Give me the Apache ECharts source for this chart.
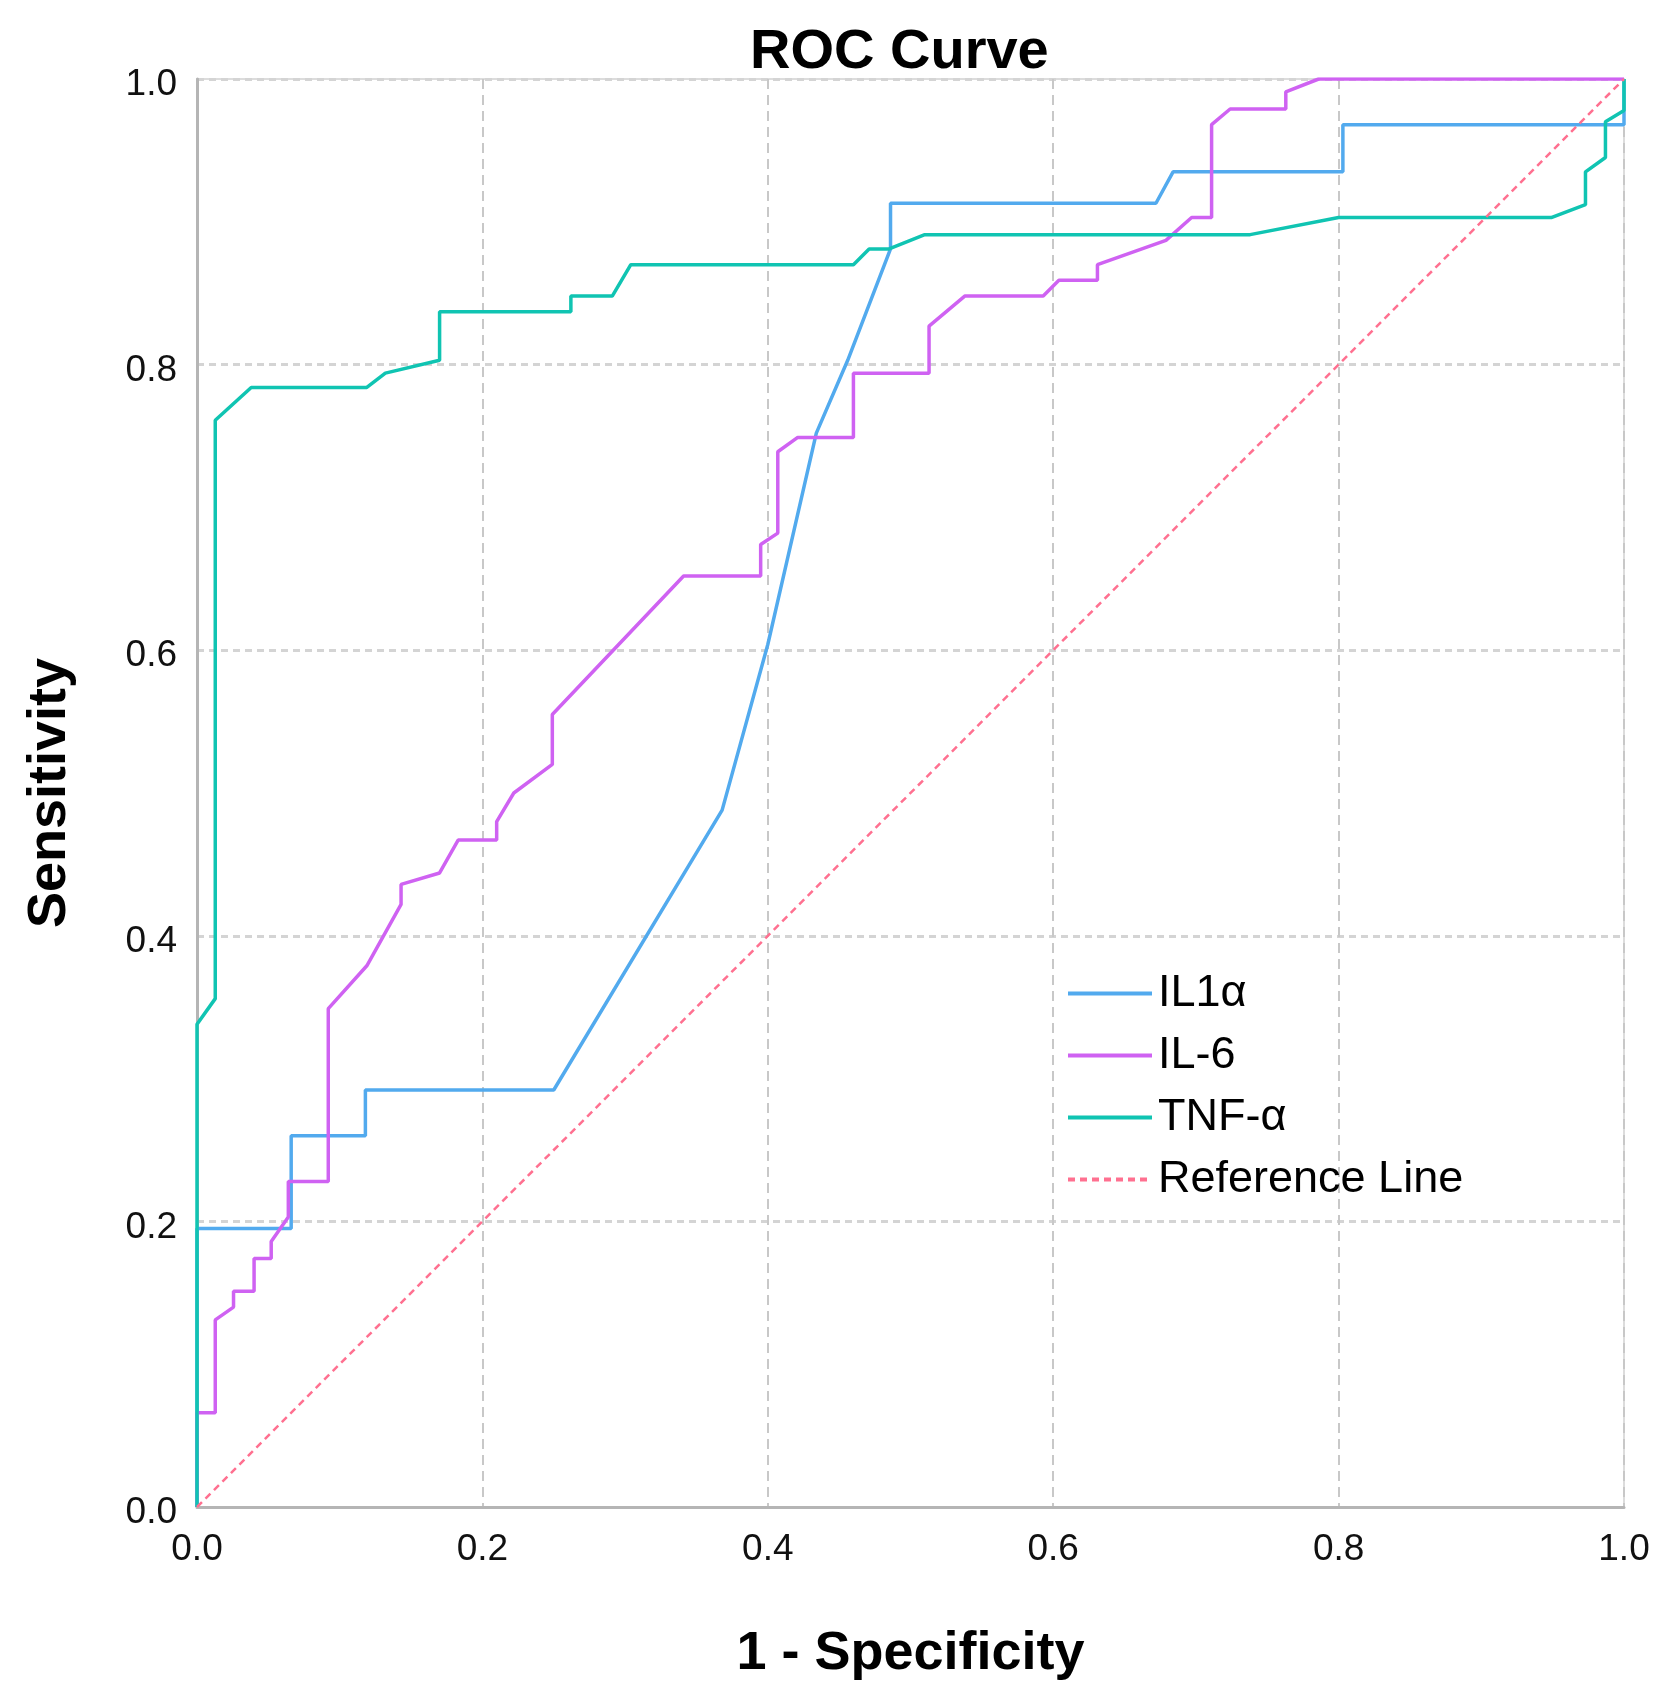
<!DOCTYPE html>
<html>
<head>
<meta charset="utf-8">
<title>ROC Curve</title>
<script src="https://cdn.jsdelivr.net/npm/echarts@6/dist/echarts.min.js"></script>
<style>
    html, body { margin: 0; padding: 0; background: #fff; }
    #rocChart { width: 1675px; height: 1700px; }
</style>
</head>
<body>
<div id="rocChart"></div>
<script>
// 坐标轴刻度
var axisTicks = [0.0, 0.2, 0.4, 0.6, 0.8, 1.0];
var seriesNames = ['IL1α', 'IL-6', 'TNF-α', 'Reference Line'];

// IL1α
var il1aX = [0, 0, 0.066, 0.066, 0.118, 0.118, 0.250, 0.368, 0.400, 0.434, 0.456, 0.486, 0.486, 0.672, 0.684, 0.803, 0.803, 1.0, 1.0];
var il1aY = [0, 0.195, 0.195, 0.260, 0.260, 0.292, 0.292, 0.488, 0.604, 0.752, 0.803, 0.881, 0.913, 0.913, 0.935, 0.935, 0.968, 0.968, 1.0];

// IL-6
var il6X = [0, 0, 0.0128, 0.0128, 0.0256, 0.0256, 0.040, 0.040, 0.052, 0.052, 0.064, 0.064, 0.092, 0.092, 0.119, 0.143, 0.143, 0.170, 0.183, 0.210, 0.210, 0.222, 0.249, 0.249, 0.341, 0.395, 0.395, 0.407, 0.407, 0.421, 0.460, 0.460, 0.513, 0.513, 0.538, 0.593, 0.604, 0.631, 0.631, 0.679, 0.697, 0.711, 0.711, 0.724, 0.763, 0.763, 0.786, 1.0];
var il6Y = [0, 0.066, 0.066, 0.131, 0.140, 0.151, 0.151, 0.174, 0.174, 0.186, 0.203, 0.228, 0.228, 0.349, 0.379, 0.422, 0.436, 0.444, 0.467, 0.467, 0.480, 0.500, 0.520, 0.555, 0.652, 0.652, 0.674, 0.682, 0.739, 0.749, 0.749, 0.794, 0.794, 0.827, 0.848, 0.848, 0.859, 0.859, 0.870, 0.887, 0.903, 0.903, 0.968, 0.979, 0.979, 0.991, 1.0, 1.0];

// TNF-α
var tnfX = [0, 0, 0.0128, 0.0128, 0.038, 0.119, 0.132, 0.170, 0.170, 0.262, 0.262, 0.291, 0.304, 0.460, 0.471, 0.485, 0.510, 0.738, 0.800, 0.949, 0.973, 0.973, 0.987, 0.987, 1.0, 1.0];
var tnfY = [0, 0.338, 0.356, 0.761, 0.784, 0.784, 0.794, 0.803, 0.837, 0.837, 0.848, 0.848, 0.870, 0.870, 0.881, 0.881, 0.891, 0.891, 0.903, 0.903, 0.912, 0.935, 0.945, 0.970, 0.978, 1.0];

// 参考线
var refX = [0, 1];
var refY = [0, 1];

var colors = ['#52aaee', '#cf62f2', '#10c4b2', '#ff7090'];

function pairs(xs, ys) {
    var out = [];
    for (var i = 0; i < xs.length; i++) {
        out.push([xs[i], ys[i]]);
    }
    return out;
}

function rocLine(name, xs, ys, color) {
    return {
        name: name,
        type: 'line',
        symbol: 'none',
        data: pairs(xs, ys),
        lineStyle: { color: color, width: 3.5 },
        itemStyle: { color: color },
        animation: false
    };
}

var font = 'Arial, "Liberation Sans", sans-serif';
var rocChart = echarts.init(document.getElementById('rocChart'));

rocChart.setOption({
    backgroundColor: '#fff',
    title: {
        text: 'ROC Curve',
        left: 745,
        top: 20,
        textStyle: { fontFamily: font, fontSize: 56, fontWeight: 'bold', color: '#000' }
    },
    legend: {
        data: seriesNames,
        orient: 'vertical',
        left: 1061,
        top: 966,
        itemWidth: 84,
        itemHeight: 14,
        itemGap: 17,
        itemStyle: { opacity: 0 },
        lineStyle: { width: 4 },
        textStyle: { fontFamily: font, fontSize: 45, lineHeight: 44, color: '#000', padding: [0, 0, 0, 1] }
    },
    grid: {
        left: 197,
        right: 51,
        top: 79,
        bottom: 193,
        show: true,
        borderColor: '#dcdcdc',
        borderWidth: 2
    },
    xAxis: {
        type: 'value',
        min: axisTicks[0],
        max: axisTicks[axisTicks.length - 1],
        interval: 0.2,
        name: '1 - Specificity',
        nameLocation: 'middle',
        nameGap: 120,
        nameTextStyle: { fontFamily: font, fontSize: 54, fontWeight: 'bold', color: '#000' },
        axisLine: { lineStyle: { color: '#b5b5b5', width: 3 } },
        axisTick: { show: false },
        axisLabel: {
            margin: 24,
            fontFamily: font,
            fontSize: 37,
            color: '#111',
            formatter: function (v) { return v.toFixed(1); }
        },
        splitLine: { lineStyle: { color: '#c8c8c8', width: 2, type: [10, 6] } }
    },
    yAxis: {
        type: 'value',
        min: axisTicks[0],
        max: axisTicks[axisTicks.length - 1],
        interval: 0.2,
        name: 'Sensitivity',
        nameLocation: 'middle',
        nameGap: 120,
        nameTextStyle: { fontFamily: font, fontSize: 54, fontWeight: 'bold', color: '#000' },
        axisLine: { show: true, lineStyle: { color: '#b5b5b5', width: 3 } },
        axisTick: { show: false },
        axisLabel: {
            margin: 20,
            fontFamily: font,
            fontSize: 37,
            color: '#111',
            verticalAlign: 'top',
            lineHeight: 12,
            formatter: function (v) { return v.toFixed(1); }
        },
        splitLine: { lineStyle: { color: '#d4d4d4', width: 3, type: [7, 5] } }
    },
    series: [
        rocLine(seriesNames[0], il1aX, il1aY, colors[0]),
        rocLine(seriesNames[1], il6X, il6Y, colors[1]),
        rocLine(seriesNames[2], tnfX, tnfY, colors[2]),
        {
            name: seriesNames[3],
            type: 'line',
            symbol: 'none',
            data: pairs(refX, refY),
            lineStyle: { color: colors[3], width: 2.5, type: [7, 5] },
            itemStyle: { color: colors[3] },
            animation: false
        }
    ]
});
</script>
</body>
</html>
